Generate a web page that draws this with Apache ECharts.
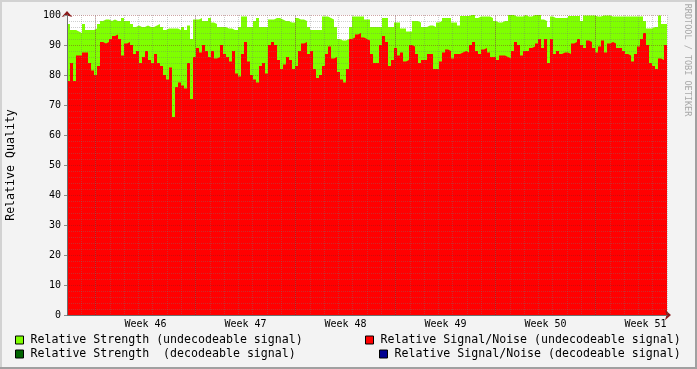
<!DOCTYPE html>
<html><head><meta charset="utf-8">
<script src="https://cdn.jsdelivr.net/npm/echarts@6/dist/echarts.min.js"></script>
<style>html,body{margin:0;padding:0;background:#f3f3f3}#c{width:697px;height:369px}</style>
</head><body><div id="c"></div>
<script>
const spanDays = 42;
const weekStarts = [2, 9, 16, 23, 30, 37];
const weekLabels = ['Week 46', 'Week 47', 'Week 48', 'Week 49', 'Week 50', 'Week 51'];
const seriesNames = [
  'Relative Strength (undecodeable signal)',
  'Relative Strength  (decodeable signal)',
  'Relative Signal/Noise (undecodeable signal)',
  'Relative Signal/Noise (decodeable signal)'
];
const strengthUndecodeable = [
  97,95,95,94.5,94,97,95,95,95,95.5, 97,98,98.5,98.5,98,98.5,98,98,99,98,
  98,97,96,96.5,96,96,96.5,96,96,96.5, 97,96,95,95.5,95.5,95.5,95.5,95,96,95,
  96.5,92,98.5,98.5,99,98,98,99,97.5,97, 96,96,96,95.5,95.5,95,95,96,99.5,99.5,
  96,96,98,99,96,96,96,98.5,98.5,99, 99,98.5,98,98,97.5,97.5,99,98.5,98.5,98,
  96,95,95,95,95,99.5,99.5,99,98.5,96, 92,91.5,91.5,92,96,99.5,99.5,99.5,99.5,98.5,
  98.5,96,96,96,96,99,99,96,96,97.5, 97.5,95.5,95.5,94.5,94.5,98,98,97.5,96,96,
  96.5,96.5,96,97.5,98,99,99,99,97.5,97.5, 96.5,99.7,99.7,99.7,100,100,99,99.5,99.5,99.5,
  99.5,99,98,97.5,97.5,98,98,100,100,99.5, 99.5,99.5,100,99.5,99.5,100,100,100,98.5,98,
  96,99.5,99,99,99,99,99,99.7,99.7,99.7, 99.7,98,99.8,99.8,99.8,99.8,99.5,99.5,99.8,99.8,
  99.8,99.5,99.5,99.5,99.5,99.5,99.5,99.5,99.5,99.5, 99.5,99.5,98,95.5,95.5,96,96,99.8,97,97
];
const snrUndecodeable = [
  78,84,78,86.5,86.5,87.5,87.5,84,81.5,80, 83,91,90.5,91,92,93,93.5,92,86.5,90.5,
  91,90,87,88,84,86,88,85,84,87, 84,83,80,78.5,82.5,66,76,77.5,76.5,75.5,
  84,72,86,89,87.5,90,88,86,88,85.5, 86,90,87,86,84.5,88,80.5,79.5,87,91,
  84.5,80,78.5,77.5,83,84,80.5,90,91,90, 85,82,83.5,86,85,82,83,88,90.5,91,
  87,88,82,79,80,83,87,89.5,85.5,86, 81,78.5,77.5,82,92,92.5,93.5,94,92.5,92,
  91.5,87,84,84,90,93,91,83,85,89, 86.5,87.5,84.5,85,90,89.5,87,84,85,85,
  87,87,82,82,84.5,87.5,88.5,88,85.5,87, 87,87.5,88,87.5,90,91,88,87,88.5,89,
  87.5,86,86,85,86.5,86.5,86,85.5,88,91, 90,86.5,88,88,89,89.5,90.5,92,89,92,
  84,92,87,88,87,87.5,87.5,87,90.5,91, 92,90,89,91.5,91,89,87.5,89.5,91.5,87.5,
  90.5,91,90.5,89,89,88,87,86.5,84.5,87, 89.5,92,94,90,84,83,82,85.5,85,90
];
const strengthDecodeable = [];
const snrDecodeable = [];

function toSteps(arr) {
  if (!arr.length) return [];
  const pts = arr.map((v, i) => [i * spanDays / arr.length, v]);
  pts.push([spanDays, arr[arr.length - 1]]);
  return pts;
}

const FONT = 'DejaVu Sans Mono';
const minorGrid = 'rgba(120,120,120,0.36)';
const majorGrid = 'rgba(130,30,30,0.40)';

function areaSeries(name, data, color, z, extra) {
  return Object.assign({
    name, type: 'line', data: toSteps(data), step: 'end', showSymbol: false, symbol: 'none',
    color, lineStyle: { width: 0, color }, areaStyle: { color, opacity: 1 },
    z, silent: true, animation: false, emphasis: { disabled: true }
  }, extra || {});
}

function legendItem(name, left, top) {
  return {
    left, top, padding: 0, itemWidth: 8, itemHeight: 8, icon: 'rect', selectedMode: false,
    data: [name], itemStyle: { borderColor: '#000', borderWidth: 1 },
    textStyle: { fontFamily: FONT, fontSize: 11.6, color: '#000', padding: [0, 0, 0, 2] }
  };
}

const chart = echarts.init(document.getElementById('c'), null, { renderer: 'canvas' });
chart.setOption({
  animation: false,
  backgroundColor: '#f3f3f3',
  grid: { left: 67, right: 30, top: 15, bottom: 54, show: true, backgroundColor: '#ffffff', borderWidth: 0,
    containLabel: false, outerBoundsMode: 'none' },
  xAxis: [
    { type: 'value', min: 0, max: spanDays, interval: 1, position: 'bottom', z: 4,
      axisLine: { show: true, lineStyle: { color: '#6f6f6f', width: 1 } },
      axisTick: { show: false }, axisLabel: { show: false },
      splitLine: { show: true, lineStyle: { color: minorGrid, type: [1, 1], width: 1 } } },
    { type: 'value', min: 0, max: spanDays, interval: 0.5, position: 'bottom', z: 3,
      axisLine: { show: true, symbol: ['none', 'arrow'], symbolSize: [8, 6], symbolOffset: [0, 4],
        lineStyle: { color: '#8b1a1a', width: 1 } },
      axisTick: { show: false }, splitLine: { show: false },
      axisLabel: { show: true, margin: 4, fontFamily: FONT, fontSize: 10, color: '#000', hideOverlap: false,
        formatter: v => {
          const k = (v - weekStarts[0] - 3.5) / 7;
          const r = Math.round(k);
          return (Math.abs(k - r) < 1e-6 && r >= 0 && r < weekLabels.length) ? weekLabels[r] : '';
        } } }
  ],
  yAxis: [
    { type: 'value', min: 0, max: 100, interval: 10, position: 'left', z: 4,
      axisLine: { show: true, lineStyle: { color: '#6f6f6f', width: 1 } },
      axisTick: { show: true, length: 3, lineStyle: { color: '#8c8c8c' } },
      axisLabel: { fontFamily: FONT, fontSize: 10, color: '#000', margin: 6 },
      splitLine: { show: true, lineStyle: { color: majorGrid, type: [1, 1], width: 1 } },
      minorTick: { show: false, splitNumber: 5 },
      minorSplitLine: { show: true, lineStyle: { color: minorGrid, type: [1, 1], width: 1 } },
      name: 'Relative Quality', nameLocation: 'middle', nameGap: 50,
      nameTextStyle: { fontFamily: FONT, fontSize: 11.6, color: '#000' } },
    { type: 'value', min: 0, max: 100, position: 'left', z: 3,
      axisLine: { show: true, symbol: ['none', 'arrow'], symbolSize: [8, 6], symbolOffset: [0, 4],
        lineStyle: { color: '#8b1a1a', width: 1 } },
      axisTick: { show: false }, axisLabel: { show: false }, splitLine: { show: false } }
  ],
  legend: [
    legendItem(seriesNames[0], 15, 334),
    legendItem(seriesNames[1], 15, 348),
    legendItem(seriesNames[2], 365, 334),
    legendItem(seriesNames[3], 379, 348)
  ],
  series: [
    areaSeries(seriesNames[0], strengthUndecodeable, '#7fff00', 1),
    areaSeries(seriesNames[2], snrUndecodeable, '#ff0000', 2, {
      markLine: { silent: true, symbol: ['none', 'none'], label: { show: false }, animation: false,
        lineStyle: { color: majorGrid, type: [1, 1], width: 1 }, emphasis: { disabled: true },
        data: weekStarts.map(d => ({ xAxis: d })) } }),
    areaSeries(seriesNames[1], strengthDecodeable, '#006400', 1),
    areaSeries(seriesNames[3], snrDecodeable, '#000090', 1)
  ],
  graphic: [
    { type: 'rect', shape: { x: 0, y: 0, width: 697, height: 2 }, style: { fill: '#d2d2d2' }, silent: true },
    { type: 'rect', shape: { x: 0, y: 0, width: 2, height: 369 }, style: { fill: '#d2d2d2' }, silent: true },
    { type: 'rect', shape: { x: 0, y: 367, width: 697, height: 2 }, style: { fill: '#a0a0a0' }, silent: true },
    { type: 'rect', shape: { x: 695, y: 0, width: 2, height: 369 }, style: { fill: '#a0a0a0' }, silent: true },
    { type: 'text', x: 687.5, y: 60, rotation: -Math.PI / 2, silent: true,
      style: { text: 'RRDTOOL / TOBI OETIKER', fill: '#a8a8a8', font: '8.5px "DejaVu Sans Mono"', align: 'center', verticalAlign: 'middle' } }
  ]
});
</script></body></html>
